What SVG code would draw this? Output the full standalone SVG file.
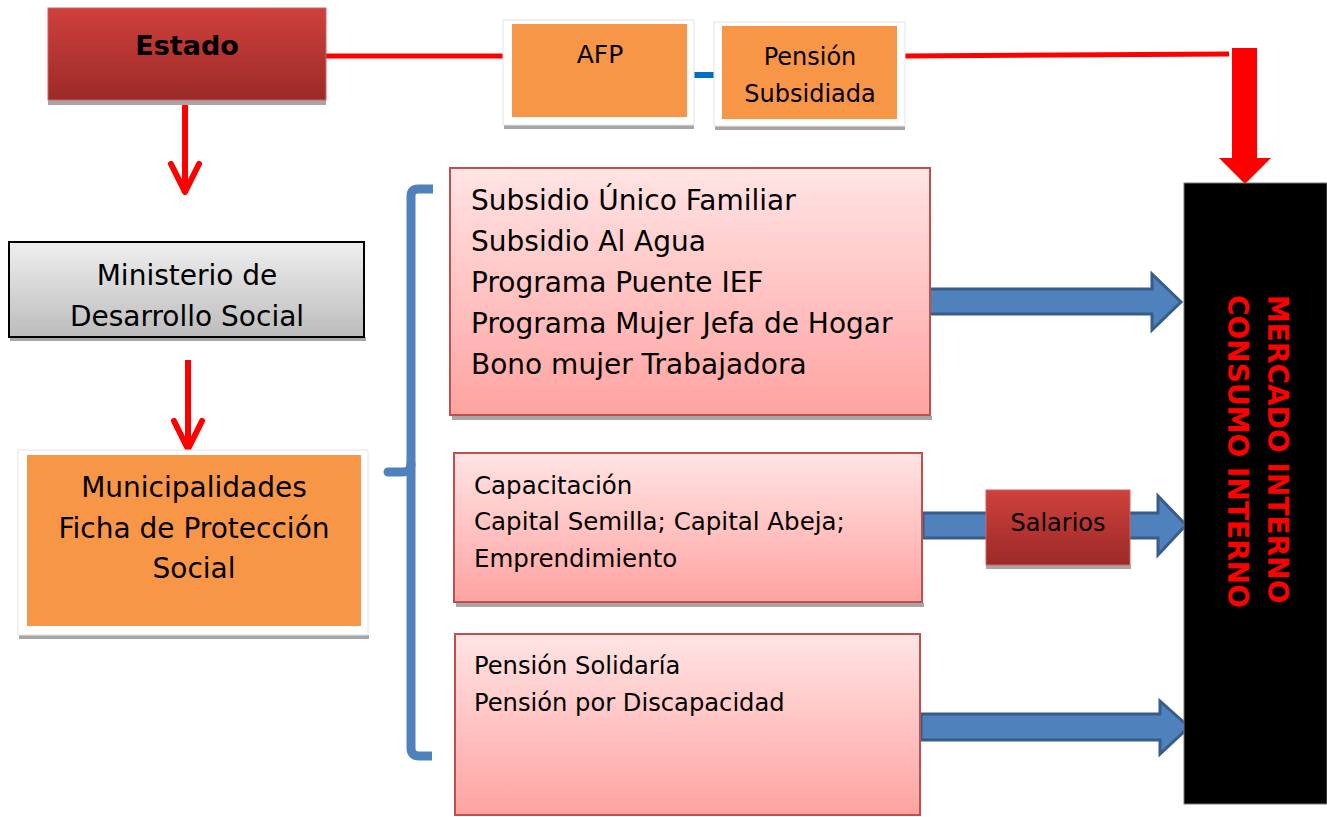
<svg xmlns="http://www.w3.org/2000/svg" width="1327" height="817" viewBox="0 0 1327 817">
<defs>
<linearGradient id="gRed" x1="0" y1="0" x2="0" y2="1"><stop offset="0" stop-color="#cf403c"/><stop offset="1" stop-color="#9c2a28"/></linearGradient>
<linearGradient id="gGray" x1="0" y1="0" x2="0" y2="1"><stop offset="0" stop-color="#efefef"/><stop offset="1" stop-color="#bcbcbc"/></linearGradient>
<linearGradient id="gPink" x1="0" y1="0" x2="0" y2="1"><stop offset="0" stop-color="#ffe4e4"/><stop offset="1" stop-color="#ffa3a1"/></linearGradient>
<style>
.t{font-family:"DejaVu Sans",sans-serif;fill:#000}
.sh{fill:#a6a6a6}
.pink{fill:url(#gPink);stroke:#c0504d;stroke-width:2}
.orange{fill:#f79646}
.white{fill:#fff;stroke:#e4e4e4;stroke-width:1}
.redline{stroke:#ff0000;stroke-width:5;fill:none}
.blk{fill:#4f81bd;stroke:#385d8a;stroke-width:3}
.vt{font-family:"DejaVu Sans",sans-serif;fill:#ff0000;font-weight:bold;font-size:28px}
</style>
</defs>
<rect width="1327" height="817" fill="#fff"/>

<g id="connectors">
<line class="redline" x1="326" y1="56" x2="505" y2="56"/>
<line x1="693" y1="75" x2="715" y2="75" stroke="#0070c0" stroke-width="6"/>
<line class="redline" x1="903" y1="56" x2="1229" y2="54"/>
<polygon points="1232,48 1257,48 1257,158 1271,158 1245,184 1219,158 1232,158" fill="#ff0000"/>
<line x1="185" y1="103" x2="185" y2="190" stroke="#ff0000" stroke-width="6"/>
<polyline points="171,164 185,192 199,164" fill="none" stroke="#ff0000" stroke-width="6" stroke-linecap="round" stroke-linejoin="round"/>
<line x1="188" y1="360" x2="188" y2="448" stroke="#ff0000" stroke-width="6"/>
<polyline points="174,421 188,449 202,421" fill="none" stroke="#ff0000" stroke-width="6" stroke-linecap="round" stroke-linejoin="round"/>
<path d="M433,189 L418,189 Q411,189 411,196 L411,748 Q411,756 419,756 L432,756" fill="none" stroke="#4f81bd" stroke-width="9"/>
<path d="M411,464 Q411,472 402,472 L388,472" fill="none" stroke="#4f81bd" stroke-width="9" stroke-linecap="round"/>
<polygon class="blk" points="925,289 1152,289 1152,274 1181,302 1152,330 1152,314 925,314"/>
<polygon class="blk" points="923,513 1158,513 1158,496 1186,525 1158,555 1158,538 923,538"/>
<polygon class="blk" points="921,714 1160,714 1160,701 1189,727 1160,754 1160,740 921,740"/>
</g>

<g id="estado">
<rect class="sh" x="48" y="100" width="278" height="5"/>
<rect x="48" y="8" width="278" height="92" fill="url(#gRed)" stroke="#d06060" stroke-width="1"/>
<text class="t" x="187" y="55" font-size="27" font-weight="bold" text-anchor="middle">Estado</text>
</g>

<g id="afp">
<rect class="sh" x="504" y="125" width="190" height="4"/>
<rect class="white" x="503" y="20" width="191" height="105"/>
<rect class="orange" x="512" y="24" width="175" height="93"/>
<text class="t" x="600" y="63" font-size="25" text-anchor="middle">AFP</text>
</g>

<g id="pension-subsidiada">
<rect class="sh" x="715" y="126" width="190" height="4"/>
<rect class="white" x="714" y="22" width="191" height="104"/>
<rect class="orange" x="722" y="26" width="175" height="93"/>
<text class="t" x="810" y="65" font-size="24" text-anchor="middle">Pensión</text>
<text class="t" x="810" y="102" font-size="24" text-anchor="middle">Subsidiada</text>
</g>

<g id="mercado">
<rect x="1184" y="183" width="143" height="621" fill="#000" stroke="#777" stroke-width="1"/>
<text class="vt" transform="translate(1268,295) rotate(90)">MERCADO INTERNO</text>
<text class="vt" transform="translate(1228,295) rotate(90)">CONSUMO INTERNO</text>
</g>

<g id="ministerio">
<rect class="sh" x="10" y="337" width="356" height="4"/>
<rect x="9" y="242" width="355" height="95" fill="url(#gGray)" stroke="#000" stroke-width="2"/>
<text class="t" x="187" y="285" font-size="28" text-anchor="middle">Ministerio de</text>
<text class="t" x="187" y="326" font-size="28" text-anchor="middle">Desarrollo Social</text>
</g>

<g id="municipalidades">
<rect class="sh" x="19" y="635" width="350" height="4"/>
<rect class="white" x="18" y="450" width="350" height="185"/>
<rect class="orange" x="27" y="455" width="334" height="171"/>
<text class="t" x="194" y="497" font-size="28" text-anchor="middle">Municipalidades</text>
<text class="t" x="194" y="538" font-size="28" text-anchor="middle">Ficha de Protección</text>
<text class="t" x="194" y="578" font-size="28" text-anchor="middle">Social</text>
</g>

<g id="subsidios">
<rect class="sh" x="452" y="416" width="480" height="4"/>
<rect class="pink" x="450" y="168" width="480" height="247"/>
<text class="t" x="471" y="210" font-size="28">Subsidio Único Familiar</text>
<text class="t" x="471" y="251" font-size="28">Subsidio Al Agua</text>
<text class="t" x="471" y="292" font-size="28">Programa Puente IEF</text>
<text class="t" x="471" y="333" font-size="28">Programa Mujer Jefa de Hogar</text>
<text class="t" x="471" y="374" font-size="28">Bono mujer Trabajadora</text>
</g>

<g id="capacitacion">
<rect class="sh" x="456" y="603" width="468" height="4"/>
<rect class="pink" x="454" y="453" width="468" height="149"/>
<text class="t" x="474" y="494" font-size="24.5">Capacitación</text>
<text class="t" x="474" y="530" font-size="24.5">Capital Semilla; Capital Abeja;</text>
<text class="t" x="474" y="567" font-size="24.5">Emprendimiento</text>
</g>

<g id="pensiones">
<rect class="pink" x="455" y="634" width="465" height="181"/>
<text class="t" x="474" y="674" font-size="24.2">Pensión Solidaría</text>
<text class="t" x="474" y="711" font-size="24.2">Pensión por Discapacidad</text>
</g>

<g id="salarios">
<rect class="sh" x="986" y="565" width="145" height="4"/>
<rect x="986" y="490" width="144" height="75" fill="url(#gRed)" stroke="#d06060" stroke-width="1"/>
<text class="t" x="1058" y="531" font-size="24" text-anchor="middle">Salarios</text>
</g>
</svg>
